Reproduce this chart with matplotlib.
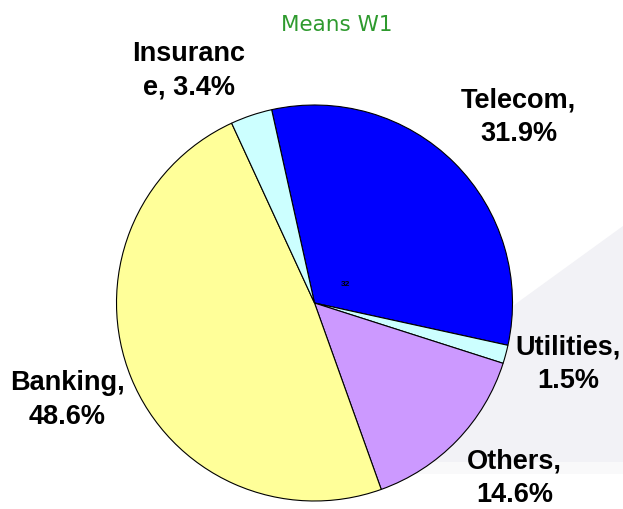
import matplotlib.pyplot as plt
from matplotlib.patches import Polygon

# data
sectors = ['Telecom', 'Utilities', 'Others', 'Banking', 'Insurance']
shares = [31.9, 1.5, 14.6, 48.6, 3.4]
label_texts = ['Telecom,\n31.9%', 'Utilities,\n1.5%', 'Others,\n14.6%',
               'Banking,\n48.6%', 'Insuranc\ne, 3.4%']
colors = ['#0000FF', '#CCFFFF', '#CC99FF', '#FFFF99', '#CCFFFF']

# label centres in pie radius units (x right, y up)
label_pos = [(1.03, 0.94), (1.28, -0.31), (1.01, -0.885), (-1.247, -0.49), (-0.634, 1.175)]

W, H = 623, 509
fig = plt.figure(figsize=(W / 100, H / 100), dpi=100)

# light grey background swoosh on the right
bg = Polygon([(390 / W, 1 - 395 / H), (1.0, 1 - 226 / H), (1.0, 1 - 462 / H), (390 / W, 1 - 462 / H)],
             closed=True, transform=fig.transFigure, facecolor='#f2f2f6', edgecolor='none', zorder=-1)
fig.patches.append(bg)
band = Polygon([(390 / W, 1 - 462 / H), (1.0, 1 - 462 / H), (1.0, 1 - 474 / H), (390 / W, 1 - 474 / H)],
               closed=True, transform=fig.transFigure, facecolor='#f9f9fa', edgecolor='none', zorder=-1)
fig.patches.append(band)

cx, cy, r = 314.5, 303, 198
ax = fig.add_axes([(cx - r) / W, (H - cy - r) / H, 2 * r / W, 2 * r / H])
ax.set_zorder(2)
ax.set_facecolor('none')

wedges, _ = ax.pie(shares, colors=colors, startangle=102.5, counterclock=False,
                   wedgeprops=dict(edgecolor='black', linewidth=0.8))

for txt, (x, y) in zip(label_texts, label_pos):
    ax.text(x, y, txt, ha='center', va='center', fontsize=19.5, fontweight='bold',
            family='Liberation Sans', linespacing=1.38, clip_on=False)

ax.text(0.156, 0.091, '32', ha='center', va='center', fontsize=6, fontweight='bold',
        family='Liberation Sans')

ax.set_xlim(-1, 1)
ax.set_ylim(-1, 1)
ax.set_aspect('equal')
ax.axis('off')

fig.text(337 / W, 1 - 25 / H, 'Means W1', ha='center', va='center', fontsize=15.5,
         color='#2e9a2e', family='DejaVu Sans')

fig.savefig('out.png', dpi=100)
